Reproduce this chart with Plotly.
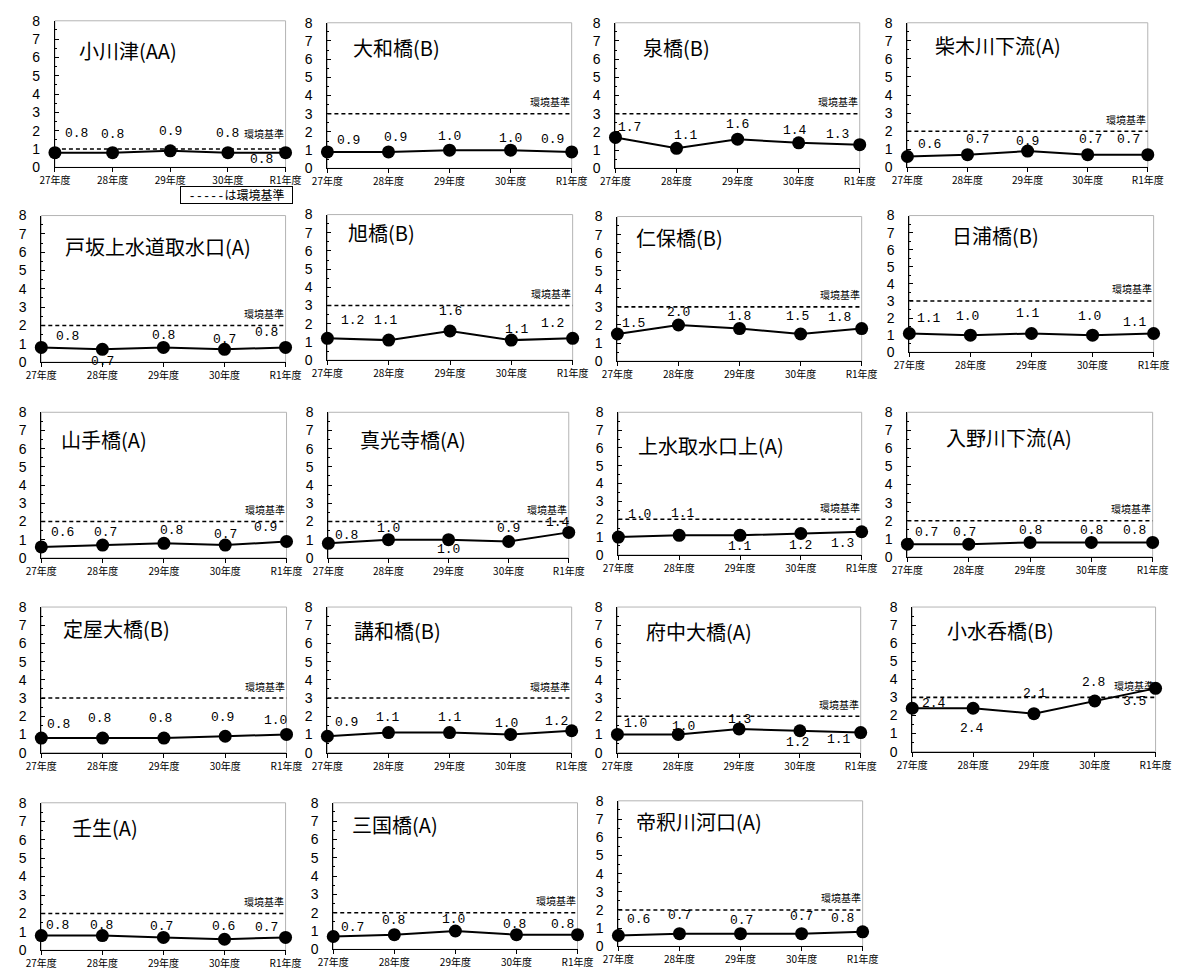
import plotly.graph_objects as go

# ---------------- data ----------------
years = ["27年度", "28年度", "29年度", "30年度", "R1年度"]

names = [
    "小川津(AA)", "大和橋(B)", "泉橋(B)", "柴木川下流(A)",
    "戸坂上水道取水口(A)", "旭橋(B)", "仁保橋(B)", "日浦橋(B)",
    "山手橋(A)", "真光寺橋(A)", "上水取水口上(A)", "入野川下流(A)",
    "定屋大橋(B)", "講和橋(B)", "府中大橋(A)", "小水呑橋(B)",
    "壬生(A)", "三国橋(A)", "帝釈川河口(A)",
]

values = [
    [0.8, 0.8, 0.9, 0.8, 0.8],
    [0.9, 0.9, 1.0, 1.0, 0.9],
    [1.7, 1.1, 1.6, 1.4, 1.3],
    [0.6, 0.7, 0.9, 0.7, 0.7],
    [0.8, 0.7, 0.8, 0.7, 0.8],
    [1.2, 1.1, 1.6, 1.1, 1.2],
    [1.5, 2.0, 1.8, 1.5, 1.8],
    [1.1, 1.0, 1.1, 1.0, 1.1],
    [0.6, 0.7, 0.8, 0.7, 0.9],
    [0.8, 1.0, 1.0, 0.9, 1.4],
    [1.0, 1.1, 1.1, 1.2, 1.3],
    [0.7, 0.7, 0.8, 0.8, 0.8],
    [0.8, 0.8, 0.8, 0.9, 1.0],
    [0.9, 1.1, 1.1, 1.0, 1.2],
    [1.0, 1.0, 1.3, 1.2, 1.1],
    [2.4, 2.4, 2.1, 2.8, 3.5],
    [0.8, 0.8, 0.7, 0.6, 0.7],
    [0.7, 0.8, 1.0, 0.8, 0.8],
    [0.6, 0.7, 0.7, 0.7, 0.8],
]

standards = [1, 3, 3, 2, 2, 3, 3, 3, 2, 2, 2, 2, 3, 3, 2, 3, 2, 2, 2]

std_label = "環境基準"

# ---------------- layout (pixels) ----------------
W, H = 1192, 978
# plot area: left, right, top, bottom
panel_px = [
    (40, 277, 13, 162), (320, 571, 15, 163), (616, 867, 15, 163), (916, 1163, 15, 162),
    (26, 277, 211, 360), (320, 572, 210, 358), (618, 869, 212, 359), (918, 1169, 211, 350),
    (26, 278, 411, 559), (321, 568, 411, 559), (619, 869, 411, 556), (916, 1168, 411, 558),
    (26, 278, 609, 757), (320, 571, 609, 757), (618, 868, 609, 757), (921, 1171, 609, 756),
    (26, 277, 808, 958), (326, 577, 808, 957), (619, 870, 806, 954),
]
# title offset from plot left / plot top (px)
title_px = [
    (23, 30), (24, 25), (26, 25), (26, 23),
    (22, 31), (19, 18), (17, 21), (42, 20),
    (18, 28), (30, 28), (18, 34), (38, 26),
    (20, 22), (25, 24), (27, 25), (34, 24),
    (30, 25), (17, 22), (16, 21),
]
# value label offsets (dx, dy) in px, dy positive = downward
label_off = [
    [(22, -19), (0, -18), (0, -19), (0, -19), (-24, 7)],
    [(21, -11), (7, -14), (0, -14), (0, -12), (-19, -12)],
    [(14, -10), (9, -13), (0, -15), (-4, -12), (-22, -10)],
    [(22, -12), (10, -15), (0, -10), (3, -15), (-19, -15)],
    [(26, -11), (0, 12), (0, -12), (0, -10), (-19, -15)],
    [(25, -18), (-3, -20), (0, -20), (6, -11), (-20, -15)],
    [(16, -11), (0, -12), (0, -12), (-3, -18), (-22, -11)],
    [(20, -15), (-3, -19), (-3, -20), (-3, -19), (-19, -11)],
    [(21, -14), (3, -13), (8, -13), (0, -11), (-21, -14)],
    [(18, -8), (0, -11), (0, 10), (0, -13), (-11, -10)],
    [(21, -23), (4, -22), (0, 11), (0, 12), (-19, 12)],
    [(19, -12), (-4, -12), (0, -12), (0, -12), (-18, -12)],
    [(17, -14), (-3, -20), (-3, -20), (-3, -19), (-11, -14)],
    [(19, -14), (0, -15), (0, -15), (-4, -11), (-15, -9)],
    [(18, -11), (5, -8), (0, -9), (-2, 12), (-22, 7)],
    [(22, -5), (-1, 20), (1, -20), (-1, -19), (-21, 13)],
    [(16, -10), (-1, -10), (-2, -11), (-1, -13), (-19, -10)],
    [(19, -9), (-1, -14), (-2, -12), (-2, -10), (-15, -10)],
    [(20, -16), (0, -18), (1, -13), (0, -17), (-20, -13)],
]
std_label_shift = [16] + [12] * 18

JP = "Noto Sans CJK JP"
NUM = "Liberation Sans Narrow, Liberation Sans, sans-serif"
MONO = "Liberation Mono, DejaVu Sans Mono, monospace"

fig = go.Figure()
annotations = []
shapes = []

for i, (name, vals, std) in enumerate(zip(names, values, standards)):
    n = i + 1
    xa = "x" if n == 1 else f"x{n}"
    ya = "y" if n == 1 else f"y{n}"
    xkey = "xaxis" if n == 1 else f"xaxis{n}"
    ykey = "yaxis" if n == 1 else f"yaxis{n}"
    l, r, t, b = panel_px[i]

    fig.add_trace(go.Scatter(
        x=years, y=vals, mode="lines+markers", xaxis=xa, yaxis=ya,
        line=dict(color="black", width=2),
        marker=dict(size=13, color="black"),
        cliponaxis=False, showlegend=False, hoverinfo="skip",
    ))

    fig.layout[xkey] = dict(
        domain=[l / W, r / W], anchor=ya, type="category",
        categoryorder="array", categoryarray=years, range=[0, 4],
        showline=True, linecolor="black", linewidth=1,
        ticks="outside", ticklen=4, tickcolor="black",
        showgrid=False, zeroline=False, fixedrange=True,
        tickfont=dict(family=JP, size=10, color="black"),
    )
    fig.layout[ykey] = dict(
        domain=[1 - b / H, 1 - t / H], anchor=xa, range=[0, 8],
        tickmode="linear", tick0=0, dtick=1,
        showline=True, linecolor="black", linewidth=1,
        ticks="inside", ticklen=4, tickcolor="black",
        minor=dict(ticks="inside", ticklen=2, dtick=0.5, tickcolor="black"),
        showgrid=False, zeroline=False, fixedrange=True,
        ticklabelstandoff=11,
        tickfont=dict(family=NUM, size=14, color="black"),
    )

    # gray frame of the plot area
    shapes.append(dict(type="rect", xref=f"{xa} domain", yref=f"{ya} domain",
                       x0=0, x1=1, y0=0, y1=1, layer="below",
                       line=dict(color="#B4B4B4", width=1)))
    # environmental standard (dashed)
    shapes.append(dict(type="line", xref=f"{xa} domain", yref=ya,
                       x0=0, x1=1, y0=std, y1=std, layer="below",
                       line=dict(color="black", width=1.6, dash="4px,3px")))
    annotations.append(dict(text=std_label, xref=f"{xa} domain", yref=ya,
                            x=1, y=std, xanchor="right", yanchor="middle",
                            yshift=std_label_shift[i], showarrow=False,
                            font=dict(family=JP, size=10, color="black")))
    # panel title
    tx, ty = title_px[i]
    annotations.append(dict(text=name, xref=f"{xa} domain", yref=f"{ya} domain",
                            x=tx / (r - l), y=1 - ty / (b - t),
                            xanchor="left", yanchor="middle", showarrow=False,
                            font=dict(family=JP, size=20, color="black")))
    # value labels
    for j, (yr, v) in enumerate(zip(years, vals)):
        dx, dy = label_off[i][j]
        annotations.append(dict(text=f"{v:.1f}", xref=xa, yref=ya, x=yr, y=v,
                                xshift=dx, yshift=-dy, showarrow=False,
                                xanchor="center", yanchor="middle",
                                font=dict(family=MONO, size=13, color="black")))

# legend box explaining dashed line
annotations.append(dict(
    text="<span style='font-family:Liberation Mono'>-----</span>は環境基準",
    xref="paper", yref="paper", x=226.5 / W, y=1 - 190 / H,
    xanchor="center", yanchor="middle", showarrow=False,
    bordercolor="black", borderwidth=1, borderpad=1, bgcolor="white",
    width=109, height=14,
    font=dict(family=JP, size=12, color="black")))

fig.update_layout(
    width=W, height=H, margin=dict(l=0, r=0, t=0, b=0),
    paper_bgcolor="white", plot_bgcolor="rgba(0,0,0,0)",
    annotations=annotations, shapes=shapes, showlegend=False,
)

fig.write_html(
    "out.html",
    config={"displayModeBar": False, "staticPlot": True},
    post_script="document.body.style.margin='0px';document.documentElement.style.margin='0px';",
)
